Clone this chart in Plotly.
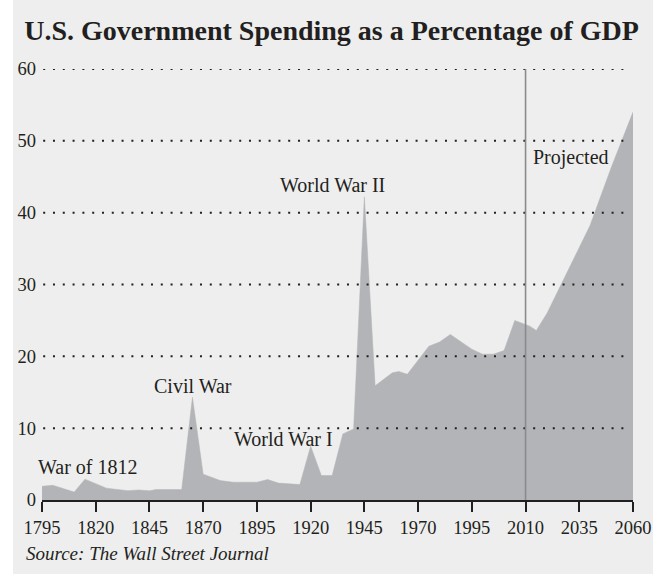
import numpy as np
import plotly.graph_objects as go

# Spending as a share of GDP (percent); projections begin after 2010
YEARS = [1795, 1800, 1810, 1815, 1825, 1835, 1840, 1845, 1848, 1855, 1860,
         1865, 1870, 1878, 1884, 1895, 1900, 1905, 1915, 1920, 1925, 1930,
         1935, 1940, 1945, 1950, 1955, 1958, 1961, 1965, 1975, 1980, 1985,
         1995, 1998, 2001, 2004, 2007, 2012, 2015, 2020, 2030, 2040, 2050,
         2060]
SPENDING = [1.9, 2.05, 1.1, 2.9, 1.65, 1.3, 1.4, 1.28, 1.45, 1.5, 1.45,
            14.3, 3.6, 2.7, 2.48, 2.48, 2.85, 2.35, 2.15, 7.5, 3.4, 3.4,
            9.2, 9.9, 42.2, 15.9, 17.1, 17.7, 17.9, 17.5, 21.4, 22.0, 23.05,
            21.0, 20.3, 20.3, 20.8, 25.0, 24.2, 23.6, 26.0, 32.0, 38.2, 46.4,
            54.0]

# Axis labels are evenly spaced even though the year gaps are not
TICK_YEARS = [1795, 1820, 1845, 1870, 1895, 1920, 1945, 1970, 1995, 2010,
              2035, 2060]
TICK_LABELS = [str(y) for y in TICK_YEARS]
Y_TICKS = [0, 10, 20, 30, 40, 50, 60]
PROJECTION_START = 2010

EVENTS = ["War of 1812", "Civil War", "World War I", "World War II", "Projected"]

SERIF = "Liberation Serif, Times New Roman, serif"
INK = "#231f20"


def to_axis(years):
    """Map calendar years onto the evenly spaced label positions."""
    return np.interp(years, TICK_YEARS, np.arange(len(TICK_YEARS)))


x_pos = to_axis(YEARS)

fig = go.Figure()
fig.add_trace(go.Scatter(
    x=x_pos, y=SPENDING, mode="lines", fill="tozeroy",
    fillcolor="#b3b4b7", line=dict(color="#b3b4b7", width=0.5),
    hoverinfo="skip", showlegend=False,
))

shapes = [
    # light panel behind the whole graphic
    dict(type="rect", xref="paper", yref="paper", x0=-0.049, x1=1.034,
         y0=-0.2, y1=1.2, fillcolor="#eeeeee", line=dict(width=0),
         layer="below"),
]
# dotted reference lines drawn over the area
for v in Y_TICKS[1:]:
    shapes.append(dict(type="line", xref="paper", yref="y", x0=0.002,
                       x1=0.99, y0=v, y1=v, layer="above",
                       line=dict(color=INK, width=2, dash="2px,7.8px")))
# start of projections
px_start = float(to_axis([PROJECTION_START])[0])
shapes.append(dict(type="line", xref="x", yref="y", x0=px_start, x1=px_start,
                   y0=0, y1=60.3, layer="above",
                   line=dict(color="#8a8a8c", width=1.6)))

label_pos = [(0.85, 4.6), (2.805, 15.9), (4.49, 8.5), (5.40, 43.8),
             (9.845, 47.7)]
annotations = [
    dict(x=x, y=y, xref="x", yref="y", text=t, showarrow=False,
         font=dict(family=SERIF, size=20, color=INK))
    for t, (x, y) in zip(EVENTS, label_pos)
]
annotations.append(dict(
    x=-0.031, y=-0.125, xref="paper", yref="paper", xanchor="left",
    yanchor="middle", showarrow=False,
    text="<i>Source: The Wall Street Journal</i>",
    font=dict(family=SERIF, size=19, color=INK)))

fig.update_layout(
    width=663, height=574,
    margin=dict(l=42, r=30, t=69, b=74),
    paper_bgcolor="white", plot_bgcolor="#eeeeee",
    title=dict(text="<b>U.S. Government Spending as a Percentage of GDP</b>",
               x=0.5, xref="container", xanchor="center",
               y=0.948, yref="container", yanchor="middle",
               font=dict(family=SERIF, size=28, color=INK)),
    xaxis=dict(range=[0, len(TICK_YEARS) - 1],
               tickvals=list(range(len(TICK_YEARS))), ticktext=TICK_LABELS,
               showgrid=False, zeroline=False, showline=True,
               linecolor=INK, linewidth=1.6, ticks="outside", ticklen=10,
               tickwidth=1.6, tickcolor=INK, layer="above traces",
               tickfont=dict(family=SERIF, size=18.5, color=INK)),
    yaxis=dict(range=[0, 60], tickvals=Y_TICKS, showgrid=False,
               zeroline=False, showline=False, ticks="",
               ticklabelstandoff=5,
               tickfont=dict(family=SERIF, size=18.5, color=INK)),
    shapes=shapes, annotations=annotations,
)

fig.write_html("out.html")
